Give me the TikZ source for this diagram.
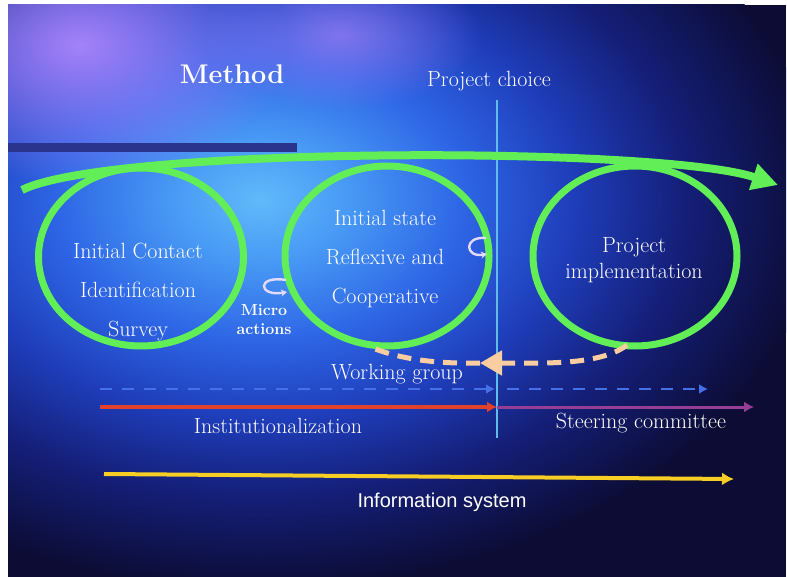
\documentclass[tikz,border=0pt]{standalone}
\usepackage{fontspec}
\newfontfamily\infofont{Liberation Sans}
\usetikzlibrary{arrows.meta,shapes.geometric,fadings}

\definecolor{navy}{RGB}{12,12,52}
\definecolor{lilac}{RGB}{165,130,250}
\definecolor{ringgreen}{RGB}{98,238,86}
\definecolor{peach}{RGB}{250,205,160}
\definecolor{wgblue}{RGB}{70,112,232}
\definecolor{instred}{RGB}{226,66,44}
\definecolor{steerpurple}{RGB}{150,62,150}
\definecolor{infoyellow}{RGB}{246,206,36}
\definecolor{choicecyan}{RGB}{95,190,232}
\definecolor{barblue}{RGB}{42,52,140}
\definecolor{curlwhite}{RGB}{228,218,252}

\tikzfading[name=blobfade, inner color=transparent!0, outer color=transparent!100]
\pgfdeclareradialshading{glow}{\pgfpoint{0bp}{0bp}}{%
  rgb(0bp)=(0.38,0.73,0.98); rgb(4bp)=(0.28,0.6,0.96);
  rgb(9bp)=(0.18,0.4,0.9); rgb(14bp)=(0.12,0.24,0.73);
  rgb(19bp)=(0.08,0.12,0.47); rgb(25bp)=(0.047,0.047,0.204);
  rgb(50bp)=(0.047,0.047,0.204)}

\begin{document}
\begin{tikzpicture}[x=1pt,y=-1pt,>=Latex,
   txt/.style={text=white,align=center,inner sep=0pt,font=\fontsize{22}{39}\selectfont},
   ring/.style={ellipse,draw=ringgreen,line width=7pt,minimum width=204pt,minimum height=180pt,inner sep=0pt},
   sweep/.style={draw=ringgreen,line width=8pt,-{Triangle[length=26pt,width=26pt]}},
   curl/.style={draw=curlwhite,line width=2.4pt,-{Stealth[length=6pt,width=7pt]}},
   wgarrow/.style={draw=peach,line width=5pt,dash pattern=on 14pt off 9pt},
   wgline/.style={draw=wgblue,line width=2.5pt,dash pattern=on 12pt off 10pt,-{Latex[length=9pt,width=10pt]}},
   instline/.style={draw=instred,line width=3.5pt,-{Latex[length=10pt,width=11pt]}},
   steerline/.style={draw=steerpurple,line width=3pt,-{Latex[length=10pt,width=11pt]}},
   infoline/.style={draw=infoyellow,line width=4pt,-{Latex[length=12pt,width=13pt]}}]
  \useasboundingbox (0,0) rectangle (787,577);
  % background
  \fill[white] (0,0) rectangle (787,577);
  \fill[navy] (8,5) rectangle (786,577);
  \begin{scope}
    \clip (8,5) rectangle (786,577);
    \shade[shading=glow] (260,200) ellipse (560 and 390);
    \fill[lilac,path fading=blobfade] (80,45) ellipse (210 and 140);
    \fill[lilac,path fading=blobfade,fill opacity=0.7] (340,35) ellipse (140 and 75);
  \end{scope}
  \fill[barblue] (8,143) rectangle (297,152);

  \node[txt,font=\bfseries\fontsize{27}{30}\selectfont] (method) at (232,74) {Method};
  \node[txt] (choice) at (489,81) {Project choice};
  \coordinate (ctop) at (497,100);
  \coordinate (cbot) at (497,438);
  \draw[choicecyan,line width=1.2pt] (ctop) -- (cbot);

  % the three loops
  \node[ring,minimum width=205pt,minimum height=178pt] (e1) at (141,257) {};
  \node[ring] (e2) at (387,256) {};
  \node[ring] (e3) at (635,256) {};
  \coordinate (gs) at (22,190);
  \coordinate (ge) at (778,185);
  \draw[sweep] (gs) .. controls (110,146) and (660,146) .. (ge);

  \node[txt] (t1) at (138,292) {Initial Contact\\Identification\\Survey};
  \node[txt] (t2) at (385,259) {Initial state\\Reflexive and\\Cooperative};
  \node[txt,font=\fontsize{22}{26}\selectfont] (t3) at (634,260) {Project\\implementation};
  \node[txt,font=\bfseries\fontsize{16}{19}\selectfont] (micro) at (264,320) {Micro\\actions};
  \draw[curl] (286,280) .. controls (256,275) and (258,297) .. (287,292);
  \draw[curl] (486,238) .. controls (463,236) and (465,258) .. (487,254);

  % working group feedback
  \coordinate (ps) at (627,345);
  \coordinate (pm) at (480,363);
  \coordinate (pe) at (368,346);
  \draw[wgarrow,-{Triangle[length=22pt,width=24pt]}] (ps) .. controls (600,366) and (540,363) .. (pm);
  \draw[wgarrow] (pm) .. controls (440,364) and (400,360) .. (pe);
  \node[txt] (wg) at (397,374) {Working group};

  \coordinate (b1) at (100,389);
  \coordinate (b2) at (495,389);
  \coordinate (b3) at (507,389);
  \coordinate (b4) at (708,389);
  \draw[wgline] (b1) -- (b2);
  \draw[wgline] (b3) -- (b4);

  \coordinate (r1) at (100,407);
  \coordinate (r2) at (497,407);
  \coordinate (r3) at (754,407);
  \draw[instline] (r1) -- (r2);
  \draw[steerline] (r2) -- (r3);
  \node[txt] (inst) at (278,426) {Institutionalization};
  \node[txt] (steer) at (641,423) {Steering committee};

  \coordinate (y1) at (104,474);
  \coordinate (y2) at (734,479);
  \draw[infoline] (y1) -- (y2);
  \node[txt,font=\infofont\fontsize{20}{24}\selectfont] (info) at (442,502) {Information system};
\end{tikzpicture}
\end{document}
